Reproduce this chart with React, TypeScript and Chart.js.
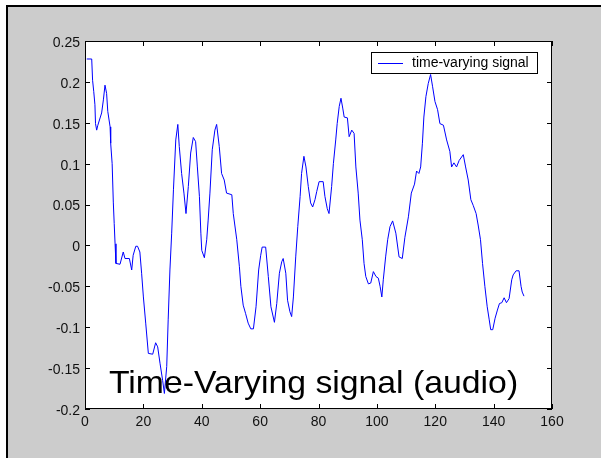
import React, { useEffect, useRef } from 'react';
import { Chart, registerables } from 'chart.js';

Chart.register(...registerables);

// ---- data ----
const signalX = [
  0.6, 2.3, 2.6, 3.0, 3.4, 3.6, 4.0, 4.4, 5.7, 6.3,
  6.85, 7.4, 7.8, 8.6, 8.8, 9.3, 9.7, 10.0, 10.3, 10.6,
  12.0, 13.1, 13.7, 15.2, 16.0, 16.5, 17.4, 18.0, 18.8, 19.4,
  20.0, 20.8, 21.7, 23.2, 24.2, 24.9, 25.7, 26.6, 27.2, 28.0,
  28.5, 29.1, 29.7, 30.3, 31.1, 31.8, 32.3, 33.1, 33.9, 34.6,
  35.4, 36.2, 37.1, 37.9, 38.5, 39.2, 39.7, 40.0, 40.9, 41.7,
  42.2, 42.8, 43.6, 44.5, 45.1, 46.0, 46.8, 47.7, 48.5, 50.3,
  50.8, 52.0, 52.9, 53.4, 54.2, 55.0, 55.9, 56.8, 57.7, 58.6,
  59.5, 60.2, 60.7, 61.9, 62.8, 63.7, 64.9, 65.7, 66.6, 67.4,
  67.9, 68.8, 69.4, 70.2, 70.8, 71.4, 72.2, 72.9, 73.7, 74.2,
  75.0, 75.7, 76.5, 77.3, 78.0, 78.8, 79.4, 80.2, 81.6, 82.2,
  83.0, 83.6, 84.5, 85.1, 85.9, 86.4, 87.1, 87.7, 88.3, 88.8,
  89.9, 90.5, 91.4, 92.2, 92.8, 93.6, 94.2, 95.0, 95.6, 96.2,
  97.1, 97.9, 98.8, 99.7, 100.5, 101.1, 101.7, 102.2, 103.0, 103.7,
  104.5, 105.4, 106.5, 107.6, 108.7, 109.6, 110.8, 111.8, 112.9, 113.6,
  114.4, 115.0, 115.6, 116.1, 116.8, 117.6, 118.4, 119.1, 119.9, 120.8,
  121.6, 122.8, 123.9, 125.0, 125.6, 126.4, 127.3, 128.2, 129.6, 130.4,
  131.3, 132.2, 133.0, 134.0, 134.7, 135.5, 136.2, 137.0, 137.8, 138.5,
  139.0, 139.7, 140.5, 141.3, 142.0, 142.8, 143.6, 144.4, 145.3, 146.2,
  146.7, 147.7, 148.7, 149.4, 149.8, 150.4,
];

const signalY = [
  0.228, 0.228, 0.202, 0.188, 0.172, 0.149, 0.141, 0.147, 0.162, 0.178,
  0.196, 0.186, 0.164, 0.145, 0.125, 0.100, 0.053, 0.027, 0.002, -0.022,
  -0.023, -0.008, -0.016, -0.016, -0.030, -0.012, -0.001, -0.001, -0.008, -0.034,
  -0.063, -0.095, -0.132, -0.133, -0.119, -0.124, -0.144, -0.165, -0.181, -0.148,
  -0.091, -0.030, 0.015, 0.068, 0.129, 0.148, 0.121, 0.088, 0.064, 0.039,
  0.072, 0.113, 0.132, 0.127, 0.096, 0.060, 0.015, -0.006, -0.015, 0.007,
  0.031, 0.064, 0.117, 0.141, 0.148, 0.121, 0.088, 0.080, 0.064, 0.062,
  0.039, 0.007, -0.026, -0.050, -0.073, -0.083, -0.095, -0.102, -0.102, -0.075,
  -0.030, -0.012, -0.002, -0.002, -0.038, -0.075, -0.094, -0.071, -0.034, -0.020,
  -0.016, -0.034, -0.067, -0.081, -0.087, -0.063, -0.014, 0.023, 0.060, 0.088,
  0.109, 0.096, 0.072, 0.052, 0.047, 0.056, 0.066, 0.078, 0.078, 0.060,
  0.045, 0.039, 0.072, 0.100, 0.129, 0.149, 0.170, 0.180, 0.168, 0.157,
  0.156, 0.133, 0.141, 0.137, 0.096, 0.064, 0.031, 0.007, -0.022, -0.038,
  -0.047, -0.046, -0.032, -0.038, -0.040, -0.050, -0.063, -0.042, -0.014, 0.007,
  0.023, 0.030, 0.015, -0.014, -0.016, 0.010, 0.035, 0.064, 0.075, 0.091,
  0.088, 0.096, 0.125, 0.157, 0.182, 0.198, 0.209, 0.194, 0.176, 0.166,
  0.149, 0.147, 0.129, 0.115, 0.096, 0.101, 0.096, 0.104, 0.111, 0.096,
  0.080, 0.056, 0.049, 0.039, 0.025, 0.007, -0.022, -0.050, -0.075, -0.091,
  -0.103, -0.103, -0.089, -0.079, -0.071, -0.070, -0.064, -0.070, -0.065, -0.042,
  -0.036, -0.031, -0.031, -0.050, -0.057, -0.062,
];

const seriesLabel = 'time-varying signal';
const xTickValues = [0, 20, 40, 60, 80, 100, 120, 140, 160];
const xTickLabels = ['0', '20', '40', '60', '80', '100', '120', '140', '160'];
const yTickValues = [-0.2, -0.15, -0.1, -0.05, 0, 0.05, 0.1, 0.15, 0.2, 0.25];
const yTickLabels = ['-0.2', '-0.15', '-0.1', '-0.05', '0', '0.05', '0.1', '0.15', '0.2', '0.25'];
const annotationText = 'Time-Varying signal (audio)';
const annotationX = 8.2;
const annotationXEnd = 148.4;
const annotationY = -0.18;

const FONT = '"Liberation Sans", Arial, Helvetica, sans-serif';

const matlabPlugin = {
  id: 'matlabLook',
  beforeDraw(chart: any) {
    const { ctx, width, height, chartArea: a } = chart;
    ctx.save();
    ctx.fillStyle = '#ffffff';
    ctx.fillRect(0, 0, width, height);
    ctx.fillStyle = '#000000';
    ctx.fillRect(6, 5, width - 6, height - 5);
    ctx.fillStyle = '#cccccc';
    ctx.fillRect(8, 7, width - 8, height - 7);
    ctx.fillStyle = '#ffffff';
    ctx.fillRect(a.left, a.top, a.right - a.left, a.bottom - a.top);
    ctx.restore();
  },
  afterDatasetsDraw(chart: any) {
    const { ctx, chartArea: a, scales } = chart;
    const xs = scales.x;
    const ys = scales.y;
    ctx.save();
    // annotation text (MATLAB text object), stretched to its span in data units
    ctx.fillStyle = '#000000';
    ctx.font = `32px ${FONT}`;
    ctx.textAlign = 'left';
    ctx.textBaseline = 'alphabetic';
    const tx0 = xs.getPixelForValue(annotationX);
    const tx1 = xs.getPixelForValue(annotationXEnd);
    const mw = ctx.measureText(annotationText).width;
    const sx = (tx1 - tx0) / mw;
    ctx.save();
    ctx.translate(tx0, ys.getPixelForValue(annotationY));
    ctx.scale(sx, 1);
    ctx.fillText(annotationText, 0, 0);
    ctx.restore();

    // frame
    ctx.strokeStyle = '#000000';
    ctx.lineWidth = 1;
    ctx.strokeRect(a.left + 0.5, a.top + 0.5, a.right - a.left - 1, a.bottom - a.top - 1);
    // inside ticks
    const tl = 5;
    ctx.beginPath();
    xTickValues.forEach((v) => {
      const px = Math.round(xs.getPixelForValue(v)) + 0.5;
      ctx.moveTo(px, a.bottom);
      ctx.lineTo(px, a.bottom - tl);
      ctx.moveTo(px, a.top);
      ctx.lineTo(px, a.top + tl);
    });
    yTickValues.forEach((v) => {
      const py = Math.round(ys.getPixelForValue(v)) + 0.5;
      ctx.moveTo(a.left, py);
      ctx.lineTo(a.left + tl, py);
      ctx.moveTo(a.right, py);
      ctx.lineTo(a.right - tl, py);
    });
    ctx.stroke();

    // legend
    const lx = a.right - 181;
    const ly = a.top + 11;
    const lw = 167;
    const lh = 22;
    ctx.fillStyle = '#ffffff';
    ctx.fillRect(lx, ly, lw, lh);
    ctx.strokeStyle = '#000000';
    ctx.strokeRect(lx + 0.5, ly + 0.5, lw - 1, lh - 1);
    const ds = chart.data.datasets[0];
    ctx.strokeStyle = ds.borderColor;
    ctx.beginPath();
    ctx.moveTo(lx + 7, ly + 11.5);
    ctx.lineTo(lx + 32, ly + 11.5);
    ctx.stroke();
    ctx.fillStyle = '#000000';
    ctx.font = `14px ${FONT}`;
    ctx.textBaseline = 'middle';
    ctx.fillText(ds.label, lx + 41, ly + 11.5);
    ctx.restore();
  },
};

export default function App() {
  const canvasRef = useRef<HTMLCanvasElement | null>(null);

  useEffect(() => {
    if (!canvasRef.current) return;
    const points = signalX.map((x, i) => ({ x, y: signalY[i] }));
    const chart = new Chart(canvasRef.current, {
      type: 'line',
      data: {
        datasets: [
          {
            label: seriesLabel,
            data: points,
            borderColor: '#0000ff',
            borderWidth: 1,
            pointRadius: 0,
            tension: 0,
            fill: false,
          },
        ],
      },
      options: {
        responsive: false,
        animation: false,
        devicePixelRatio: 1,
        layout: { padding: { top: 41, right: 49, left: 0, bottom: 0 } },
        plugins: {
          legend: { display: false },
          tooltip: { enabled: false },
          title: { display: false },
        },
        scales: {
          x: {
            type: 'linear',
            min: 0,
            max: 160,
            grid: { display: false, drawTicks: false },
            border: { display: false },
            afterBuildTicks: (s: any) => {
              s.ticks = xTickValues.map((v) => ({ value: v }));
            },
            afterFit: (s: any) => {
              s.height = 49;
            },
            ticks: {
              padding: 5,
              color: '#111111',
              font: { family: FONT, size: 14 },
              maxRotation: 0,
              autoSkip: false,
              callback: (v: any) => {
                const i = xTickValues.indexOf(Number(v));
                return i >= 0 ? xTickLabels[i] : '';
              },
            },
          },
          y: {
            type: 'linear',
            min: -0.2,
            max: 0.25,
            grid: { display: false, drawTicks: false },
            border: { display: false },
            afterBuildTicks: (s: any) => {
              s.ticks = yTickValues.map((v) => ({ value: v }));
            },
            afterFit: (s: any) => {
              s.width = 85;
            },
            ticks: {
              padding: 5,
              labelOffset: 2,
              color: '#111111',
              font: { family: FONT, size: 14 },
              autoSkip: false,
              callback: (v: any) => {
                const i = yTickValues.findIndex((t) => Math.abs(t - Number(v)) < 1e-9);
                return i >= 0 ? yTickLabels[i] : '';
              },
            },
          },
        },
      },
      plugins: [matlabPlugin],
    });
    return () => chart.destroy();
  }, []);

  return (
    <div style={{ position: 'absolute', left: 0, top: 0, width: 601, height: 458 }}>
      <canvas ref={canvasRef} width={601} height={458} style={{ display: 'block', width: 601, height: 458 }} />
    </div>
  );
}
